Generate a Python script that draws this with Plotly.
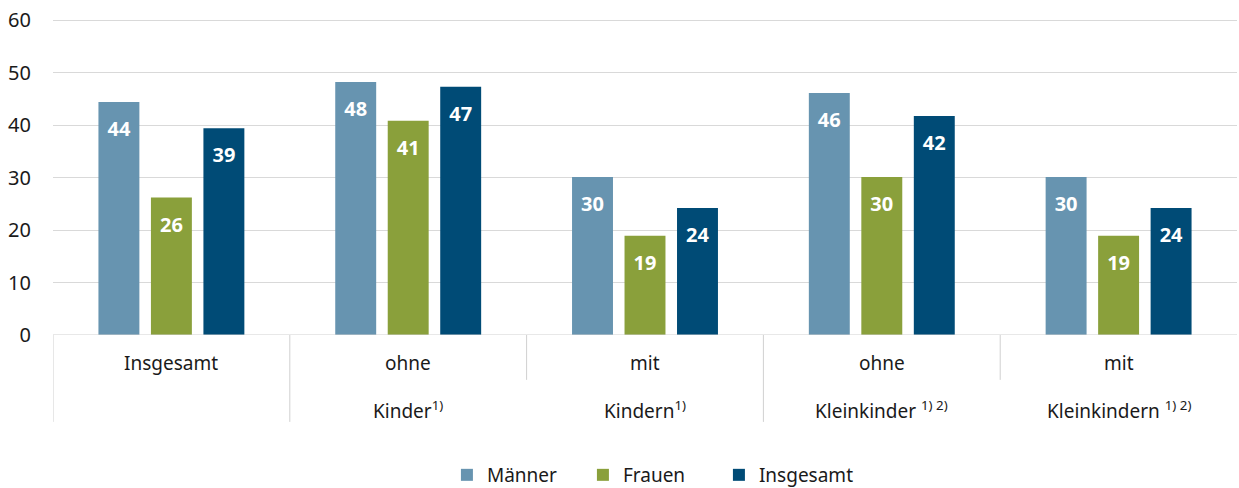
import plotly.graph_objects as go

categories = ["Insgesamt", "ohne Kinder", "mit Kindern", "ohne Kleinkinder", "mit Kleinkindern"]
top_labels = ["Insgesamt", "ohne", "mit", "ohne", "mit"]
bottom_labels = ["", "Kinder<sup>1)</sup>", "Kindern<sup>1)</sup>",
                 "Kleinkinder <sup>1) 2)</sup>", "Kleinkindern <sup>1) 2)</sup>"]
groups = [0, 1, 1, 2, 2]

maenner = [44.4, 48.2, 30.1, 46.1, 30.1]
frauen = [26.2, 40.8, 18.9, 30.1, 18.9]
insgesamt = [39.4, 47.3, 24.2, 41.7, 24.2]

series = [("Männer", maenner, "#6794b0"),
          ("Frauen", frauen, "#8aa03b"),
          ("Insgesamt", insgesamt, "#004b76")]

FONT = "Noto Sans"
TXT = "#1a1a1a"

fig = go.Figure()
for name, vals, col in series:
    fig.add_trace(go.Bar(
        x=categories, y=vals, name=name, marker_color=col,
        marker_line_width=0, offsetgroup=name, hoverinfo="skip"))
# value labels, grouped like the bars
for name, vals, col in series:
    fig.add_trace(go.Scatter(
        x=categories, y=vals, mode="markers+text", offsetgroup=name,
        text=[f"{v:.0f}" for v in vals], textposition="bottom center",
        textfont=dict(family=FONT, size=20, color="white", weight="bold"),
        marker=dict(size=29, opacity=0), showlegend=False, hoverinfo="skip"))

shapes = [dict(type="line", xref="x", yref="y", x0=-0.5, x1=len(categories) - 0.5,
               y0=0, y1=0, line=dict(color="#d0d0d0", width=1))]
for i in range(len(categories)):
    full = i == 0 or groups[i] != groups[i - 1]
    shapes.append(dict(type="line", xref="x", yref="paper", x0=i - 0.5, x1=i - 0.5,
                       y0=0, y1=-0.275 if full else -0.142,
                       line=dict(color="#d0d0d0", width=1)))

annotations = []
for i, cat in enumerate(categories):
    annotations.append(dict(x=cat, y=-0.089, xref="x", yref="paper", text=top_labels[i],
                            showarrow=False, yanchor="middle",
                            font=dict(family=FONT, size=19, color=TXT)))
    if bottom_labels[i]:
        annotations.append(dict(x=cat, y=-0.237, xref="x", yref="paper", text=bottom_labels[i],
                                showarrow=False, yanchor="middle",
                                font=dict(family=FONT, size=19, color=TXT)))

fig.update_layout(
    width=1239, height=488,
    margin=dict(l=53, r=2, t=19, b=153, autoexpand=False),
    plot_bgcolor="white", paper_bgcolor="white",
    barmode="group", bargap=0.335, bargroupgap=0.22,
    scattermode="group", scattergap=0.335,
    font=dict(family=FONT, size=19, color=TXT),
    shapes=shapes, annotations=annotations,
    legend=dict(orientation="h", x=0.505, xanchor="center", y=-0.443, yanchor="middle",
                font=dict(family=FONT, size=19, color=TXT), entrywidth=91),
)
fig.update_xaxes(showticklabels=False, showgrid=False, zeroline=False, automargin=False,
                 range=[-0.5, len(categories) - 0.5])
fig.update_yaxes(range=[0, 60.2], dtick=10, gridcolor="#d9d9d9", zeroline=False,
                 ticks="", ticklabelstandoff=21, automargin=False,
                 tickfont=dict(family=FONT, size=20, color=TXT))

fig.write_html("out.html", config={"displayModeBar": False},
               post_script="document.body.style.margin='0';")
